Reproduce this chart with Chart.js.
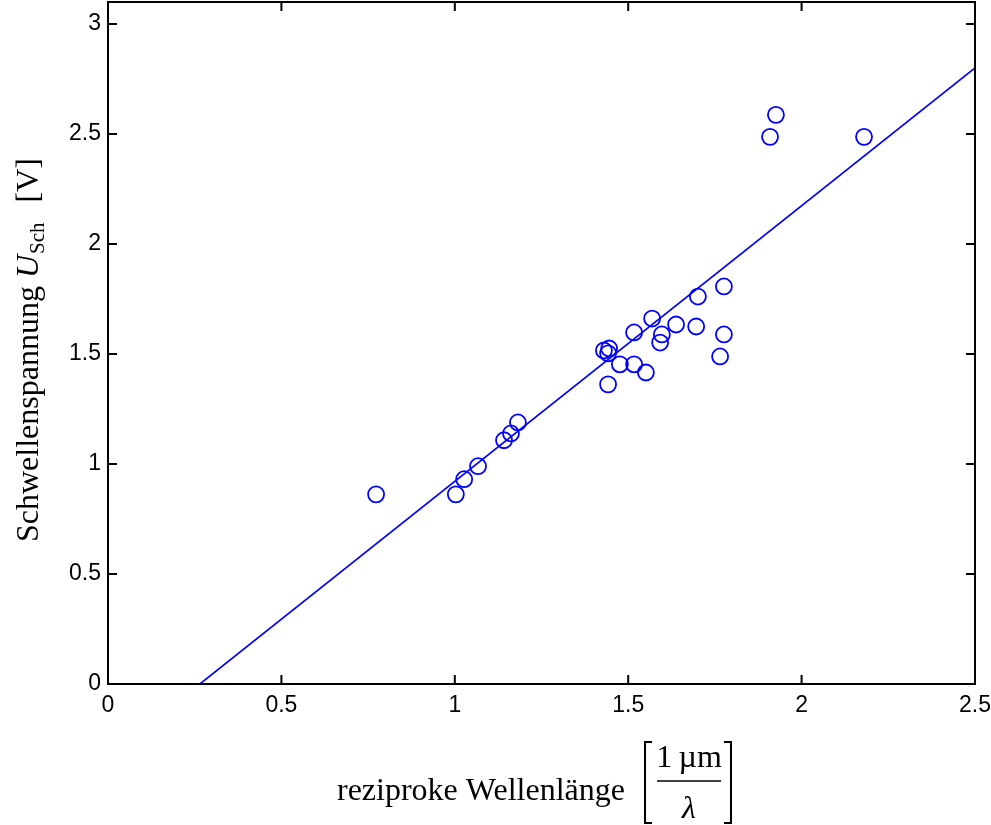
<!DOCTYPE html>
<html>
<head>
<meta charset="utf-8">
<script src="https://cdn.jsdelivr.net/npm/chart.js@4/dist/chart.umd.min.js"></script>
<style>
    body { margin: 0; background: #fff; }
    #wrap { position: relative; width: 991px; height: 825px; }
</style>
</head>
<body>
<div id="wrap"><canvas id="myChart"></canvas></div>
<script>
// 逆波長 (1µm/λ) と閾値電圧 U_Sch [V] の測定値
const waveNumbers = [
    0.773, 1.003, 1.027, 1.067, 1.142, 1.162, 1.182,
    1.430, 1.442, 1.445, 1.442, 1.476, 1.517, 1.517,
    1.551, 1.569, 1.592, 1.597, 1.638, 1.696, 1.701,
    1.765, 1.776, 1.776, 1.909, 1.926, 2.180,
];
const thresholdVoltages = [
    0.862, 0.862, 0.931, 0.990, 1.108, 1.139, 1.189,
    1.516, 1.503, 1.525, 1.362, 1.453, 1.598, 1.453,
    1.416, 1.661, 1.552, 1.589, 1.634, 1.625, 1.761,
    1.489, 1.589, 1.807, 2.487, 2.587, 2.487,
];

// 回帰直線の両端
const fitX = [0.265, 2.5];
const fitY = [0, 2.8];

// 目盛り
const xTicks = [0, 0.5, 1, 1.5, 2, 2.5];
const yTicks = [0, 0.5, 1, 1.5, 2, 2.5, 3];
const xTickLabels = ['0', '0.5', '1', '1.5', '2', '2.5'];
const yTickLabels = ['0', '0.5', '1', '1.5', '2', '2.5', '3'];

const BLUE = '#0000ff';
const SANS = '"Liberation Sans", Arial, Helvetica, sans-serif';
const SERIF = '"Liberation Serif", "Times New Roman", Times, serif';

const main = () => {
    createChart();
};

/**
 * 枠線・内向きの目盛り線・目盛りラベルを描画します。
 */
const frameAndTicks = {
    id: 'frameAndTicks',
    afterDatasetsDraw: (chart) => {
        const ctx = chart.ctx;
        const area = chart.chartArea;
        const xs = chart.scales.x;
        const ys = chart.scales.y;
        const len = 9;

        ctx.save();
        ctx.strokeStyle = '#000';
        ctx.lineWidth = 2;
        ctx.strokeRect(area.left, area.top, area.right - area.left, area.bottom - area.top);

        ctx.beginPath();
        xTicks.forEach((v) => {
            const px = xs.getPixelForValue(v);
            ctx.moveTo(px, area.bottom);
            ctx.lineTo(px, area.bottom - len);
            ctx.moveTo(px, area.top);
            ctx.lineTo(px, area.top + len);
        });
        yTicks.forEach((v) => {
            const py = ys.getPixelForValue(v);
            ctx.moveTo(area.left, py);
            ctx.lineTo(area.left + len, py);
            ctx.moveTo(area.right, py);
            ctx.lineTo(area.right - len, py);
        });
        ctx.stroke();

        ctx.fillStyle = '#000';
        ctx.font = '23px ' + SANS;
        ctx.textBaseline = 'middle';
        ctx.textAlign = 'center';
        xTicks.forEach((v, i) => {
            ctx.fillText(xTickLabels[i], xs.getPixelForValue(v), area.bottom + 22);
        });
        ctx.textAlign = 'right';
        yTicks.forEach((v, i) => {
            ctx.fillText(yTickLabels[i], area.left - 7, ys.getPixelForValue(v));
        });
        ctx.restore();
    },
};

/**
 * 軸タイトル (下付き文字・分数付き) を描画します。
 */
const axisTitles = {
    id: 'axisTitles',
    afterDraw: (chart) => {
        const ctx = chart.ctx;
        ctx.save();
        ctx.fillStyle = '#000';
        ctx.textBaseline = 'alphabetic';
        ctx.textAlign = 'left';

        // 縦軸タイトル
        ctx.translate(38, 542);
        ctx.rotate(-Math.PI / 2);
        let x = 0;
        ctx.font = '32px ' + SERIF;
        ctx.fillText('Schwellenspannung ', x, 0);
        x += ctx.measureText('Schwellenspannung ').width;
        ctx.font = 'italic 32px ' + SERIF;
        ctx.fillText('U', x, 0);
        x += ctx.measureText('U').width + 1;
        ctx.font = '21px ' + SERIF;
        ctx.fillText('Sch', x, 6);
        x += ctx.measureText('Sch').width + 20;
        ctx.font = '32px ' + SERIF;
        ctx.fillText('[V]', x, 0);
        ctx.restore();

        // 横軸タイトル
        ctx.save();
        ctx.fillStyle = '#000';
        ctx.strokeStyle = '#000';
        ctx.textBaseline = 'alphabetic';
        ctx.font = '32px ' + SERIF;
        ctx.textAlign = 'left';
        ctx.fillText('reziproke Wellenlänge', 337, 800);

        ctx.textAlign = 'center';
        ctx.fillText('1\u2009µm', 689, 767);
        ctx.font = 'italic 32px ' + SERIF;
        ctx.fillText('λ', 689, 818);

        ctx.lineWidth = 1.5;
        ctx.beginPath();
        ctx.moveTo(657, 781);
        ctx.lineTo(721, 781);
        ctx.stroke();

        ctx.lineWidth = 2;
        ctx.beginPath();
        ctx.moveTo(652, 742);
        ctx.lineTo(645, 742);
        ctx.lineTo(645, 823);
        ctx.lineTo(652, 823);
        ctx.moveTo(724, 742);
        ctx.lineTo(731, 742);
        ctx.lineTo(731, 823);
        ctx.lineTo(724, 823);
        ctx.stroke();
        ctx.restore();
    },
};

/**
 * グラフの生成を行います。
 */
const createChart = () => {
    const points = waveNumbers.map((x, i) => ({ x: x, y: thresholdVoltages[i] }));
    const fitLine = fitX.map((x, i) => ({ x: x, y: fitY[i] }));

    const config = {
        type: 'scatter',
        data: {
            datasets: [
                {
                    data: points,
                    showLine: false,
                    pointStyle: 'circle',
                    pointRadius: 8,
                    pointHoverRadius: 8,
                    borderColor: BLUE,
                    backgroundColor: 'rgba(0,0,0,0)',
                    pointBorderWidth: 1.8,
                },
                {
                    data: fitLine,
                    showLine: true,
                    pointRadius: 0,
                    borderColor: BLUE,
                    borderWidth: 1.6,
                },
            ],
        },
        options: {
            responsive: true,
            maintainAspectRatio: false,
            animation: false,
            layout: {
                autoPadding: false,
                padding: { top: 2, right: 16, left: 0, bottom: 0 },
            },
            plugins: {
                legend: { display: false },
                tooltip: { enabled: false },
            },
            scales: {
                x: {
                    type: 'linear',
                    min: 0,
                    max: 2.5,
                    grid: { display: false, drawTicks: false },
                    border: { display: false },
                    ticks: { display: false },
                    afterFit: (scale) => {
                        scale.height = 141;
                    },
                },
                y: {
                    type: 'linear',
                    min: 0,
                    max: 3.1,
                    grid: { display: false, drawTicks: false },
                    border: { display: false },
                    ticks: { display: false },
                    afterFit: (scale) => {
                        scale.width = 108;
                    },
                },
            },
        },
        plugins: [frameAndTicks, axisTitles],
    };

    return new Chart(document.getElementById('myChart'), config);
};

main();
</script>
</body>
</html>
